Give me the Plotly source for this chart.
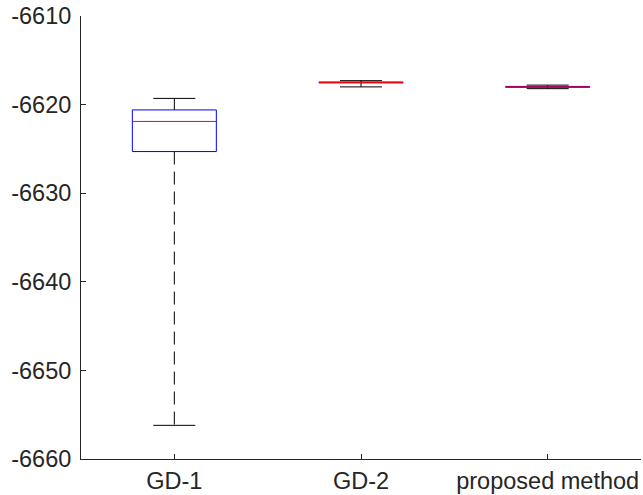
import plotly.graph_objects as go

categories = ["GD-1", "GD-2", "proposed method"]
positions = [1, 2, 3]
upper_whisker = [-6619.3, -6617.3, -6617.8]
q3 = [-6620.6, -6617.45, -6617.95]
median = [-6621.9, -6617.5, -6618.0]
q1 = [-6625.3, -6617.55, -6618.05]
lower_whisker = [-6656.2, -6618.0, -6618.2]
y_ticks = [-6660, -6650, -6640, -6630, -6620, -6610]

BOX_HW = 0.225
CAP_HW = 0.1125
AX = "#262626"

fig = go.Figure()

def line(x, y, color, dash="solid", width=1):
    fig.add_trace(go.Scatter(x=x, y=y, mode="lines", line=dict(color=color, width=width, dash=dash),
                             hoverinfo="skip", showlegend=False))

for i, p in enumerate(positions):
    # whiskers
    line([p, p], [q3[i], upper_whisker[i]], "#000000", dash="13px,7px")
    line([p, p], [q1[i], lower_whisker[i]], "#000000", dash="13px,7px")
for i, p in enumerate(positions):
    # caps
    line([p - CAP_HW, p + CAP_HW], [upper_whisker[i]] * 2, "#000000")
    line([p - CAP_HW, p + CAP_HW], [lower_whisker[i]] * 2, "#000000")
for i, p in enumerate(positions):
    # box
    line([p - BOX_HW, p + BOX_HW, p + BOX_HW, p - BOX_HW, p - BOX_HW],
         [q1[i], q1[i], q3[i], q3[i], q1[i]], "#0000ff")
for i, p in enumerate(positions):
    line([p - BOX_HW, p + BOX_HW], [median[i]] * 2, "#ff0000")

fig.update_layout(
    width=643, height=495,
    margin=dict(l=81, r=2, t=16, b=36),
    paper_bgcolor="white", plot_bgcolor="white",
    font=dict(family="Liberation Sans, Arial, sans-serif", size=23.5, color=AX),
    xaxis=dict(range=[0.5, 3.5], tickvals=positions, ticktext=categories,
               showline=True, linecolor=AX, linewidth=1, ticks="inside", ticklen=5,
               tickcolor=AX, showgrid=False, zeroline=False, automargin=False,
               ticklabelstandoff=1),
    yaxis=dict(range=[-6660, -6610], tickvals=y_ticks, ticktext=[str(v) for v in y_ticks],
               showline=True, linecolor=AX, linewidth=1, ticks="inside", ticklen=5,
               tickcolor=AX, showgrid=False, zeroline=False, automargin=False,
               ticklabelstandoff=4),
)
fig.write_html("out.html", config={"displayModeBar": False},
               post_script="document.body.style.margin='0';document.body.style.overflow='hidden';")
